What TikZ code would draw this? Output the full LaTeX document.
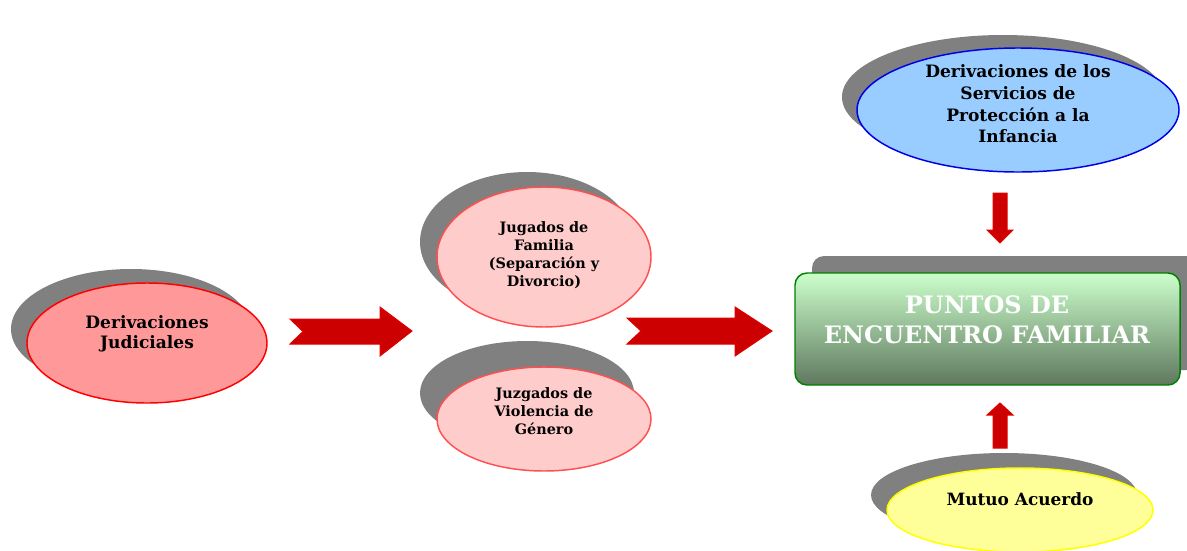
\documentclass[tikz,border=0pt]{standalone}
\usepackage{fontspec}
\setmainfont{DejaVu Serif}

\tikzset{every picture/.style={line width=0.75pt}}

\begin{document}
\begin{tikzpicture}[x=0.75pt,y=0.75pt,yscale=-1,xscale=1]
\useasboundingbox (0,0) rectangle (1187,550);

%Shape: Ellipse (shadow)
\fill [color={rgb, 255:red, 128; green, 128; blue, 128 }] (131,329) ellipse (120 and 60);
%Shape: Ellipse
\draw [color={rgb, 255:red, 255; green, 0; blue, 0 }  ,draw opacity=1 ][fill={rgb, 255:red, 255; green, 153; blue, 153 }  ,fill opacity=1 ][line width=1.1] (147,343) ellipse (120 and 60);

%Shape: Ellipse (shadow)
\fill [color={rgb, 255:red, 128; green, 128; blue, 128 }] (527,242) ellipse (107 and 70);
%Shape: Ellipse
\draw [color={rgb, 255:red, 255; green, 80; blue, 80 }  ,draw opacity=1 ][fill={rgb, 255:red, 255; green, 204; blue, 204 }  ,fill opacity=1 ][line width=1.1] (544,257) ellipse (107 and 70);

%Shape: Ellipse (shadow)
\fill [color={rgb, 255:red, 128; green, 128; blue, 128 }] (527,393) ellipse (107 and 52);
%Shape: Ellipse
\draw [color={rgb, 255:red, 255; green, 80; blue, 80 }  ,draw opacity=1 ][fill={rgb, 255:red, 255; green, 204; blue, 204 }  ,fill opacity=1 ][line width=1.1] (544,419) ellipse (107 and 52);

%Shape: Ellipse (shadow)
\fill [color={rgb, 255:red, 128; green, 128; blue, 128 }] (1003,97) ellipse (161 and 62);
%Shape: Ellipse
\draw [color={rgb, 255:red, 0; green, 0; blue, 230 }  ,draw opacity=1 ][fill={rgb, 255:red, 153; green, 204; blue, 255 }  ,fill opacity=1 ][line width=1.1] (1018,110) ellipse (161 and 62);

%Shape: Ellipse (shadow)
\fill [color={rgb, 255:red, 128; green, 128; blue, 128 }] (1004,495) ellipse (133 and 42);
%Shape: Ellipse
\draw [color={rgb, 255:red, 255; green, 255; blue, 0 }  ,draw opacity=1 ][fill={rgb, 255:red, 255; green, 255; blue, 153 }  ,fill opacity=1 ][line width=1.1] (1020,510) ellipse (133 and 42);

%Rounded Rect (shadow)
\fill [color={rgb, 255:red, 128; green, 128; blue, 128 }, rounded corners=9] (812,256) rectangle (1198,370);
%Rounded Rect
\shade [top color={rgb, 255:red, 204; green, 255; blue, 204 }, middle color={rgb, 255:red, 165; green, 205; blue, 165 }, bottom color={rgb, 255:red, 94; green, 120; blue, 94 }, rounded corners=9] (795,273) rectangle (1180,385);
\draw [color={rgb, 255:red, 0; green, 128; blue, 0 }  ,draw opacity=1 ][line width=1.1][rounded corners=9] (795,273) rectangle (1180,385);

%Right Arrow
\draw [color={rgb, 255:red, 225; green, 0; blue, 0 }  ,draw opacity=1 ][fill={rgb, 255:red, 204; green, 0; blue, 0 }  ,fill opacity=1 ] (290,319) -- (380,319) -- (380,307) -- (412,331) -- (380,356) -- (380,344) -- (290,344) -- (303,331.5) -- cycle ;
%Right Arrow
\draw [color={rgb, 255:red, 225; green, 0; blue, 0 }  ,draw opacity=1 ][fill={rgb, 255:red, 204; green, 0; blue, 0 }  ,fill opacity=1 ] (627,318) -- (735,318) -- (735,307) -- (772,331) -- (735,356) -- (735,344) -- (627,344) -- (641,331) -- cycle ;
%Down Arrow
\draw [color={rgb, 255:red, 230; green, 0; blue, 0 }  ,draw opacity=1 ][fill={rgb, 255:red, 204; green, 0; blue, 0 }  ,fill opacity=1 ] (993,193) -- (1007,193) -- (1007,230) -- (1013,230) -- (1000,243) -- (987,230) -- (993,230) -- cycle ;
%Up Arrow
\draw [color={rgb, 255:red, 230; green, 0; blue, 0 }  ,draw opacity=1 ][fill={rgb, 255:red, 204; green, 0; blue, 0 }  ,fill opacity=1 ] (993,448) -- (1007,448) -- (1007,415) -- (1013,415) -- (1000,403) -- (987,415) -- (993,415) -- cycle ;

% Text Node
\draw (147,334) node [anchor=center][inner sep=0.75pt]  [font=\fontsize{12.8}{15}\selectfont\bfseries, align=center]  (judiciales) {Derivaciones\\Judiciales};
% Text Node
\draw (544,255) node [anchor=center][inner sep=0.75pt]  [font=\fontsize{10.8}{13.5}\selectfont\bfseries, align=center]  (familia) {Jugados de\\Familia\\(Separación y\\Divorcio)};
% Text Node
\draw (544,411) node [anchor=center][inner sep=0.75pt]  [font=\fontsize{10.8}{13.5}\selectfont\bfseries, align=center]  (violencia) {Juzgados de\\Violencia de\\Género};
% Text Node
\draw (1018,104) node [anchor=center][inner sep=0.75pt]  [font=\fontsize{12.8}{16.3}\selectfont\bfseries, align=center]  (infancia) {Derivaciones de los\\Servicios de\\Protección a la\\Infancia};
% Text Node
\draw (1020,499) node [anchor=center][inner sep=0.75pt]  [font=\fontsize{12.7}{15}\selectfont\bfseries, align=center]  (mutuo) {Mutuo Acuerdo};
% Text Node
\draw (987,320) node [anchor=center][inner sep=0.75pt]  [font=\fontsize{18}{22.5}\selectfont\bfseries, color=white, align=center]  (puntos) {PUNTOS DE\\ENCUENTRO FAMILIAR};

\end{tikzpicture}
\end{document}
